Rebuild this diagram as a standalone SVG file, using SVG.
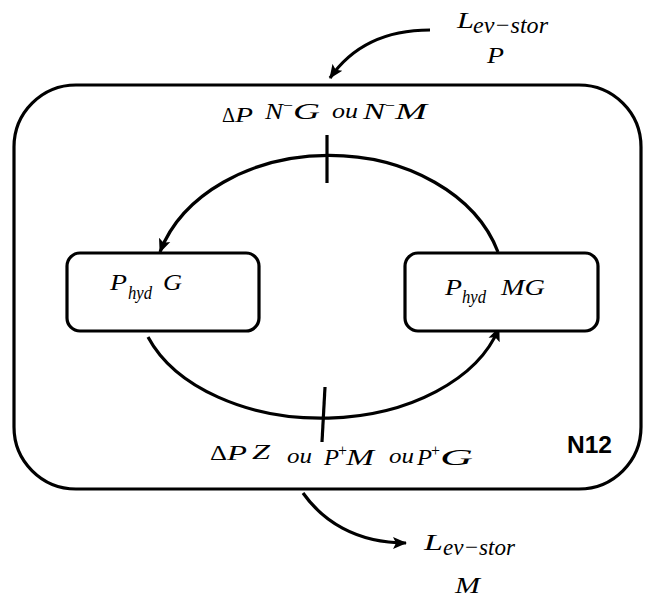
<svg xmlns="http://www.w3.org/2000/svg" width="655" height="598" viewBox="0 0 655 598">
<style>
.m{font-family:"Liberation Serif","Times New Roman",serif;font-style:italic;fill:#000}
.u{font-family:"Liberation Serif","Times New Roman",serif;fill:#000}
.box{fill:#fff;stroke:#000;stroke-width:3.2}
.ln{fill:none;stroke:#000;stroke-width:3.2}
.b{font-family:"Liberation Sans",Arial,sans-serif;font-weight:bold;fill:#000}
</style>
<defs>
<marker id="ah" markerUnits="userSpaceOnUse" markerWidth="16" markerHeight="14" refX="13" refY="7" orient="auto">
<path d="M0,1 L14,7 L0,13 L3,7 Z" fill="#000"/>
</marker>
</defs>
<rect width="655" height="598" fill="#fff"/>
<g id="n12">
<rect class="box" x="14" y="85" width="627" height="404" rx="62" ry="62"/>
<text class="b" x="567" y="453" font-size="23" textLength="45" lengthAdjust="spacingAndGlyphs">N12</text>
</g>
<g id="connectors">
<path class="ln" d="M498 252 A176 134 0 0 0 160 252" marker-end="url(#ah)"/>
<path class="ln" d="M148 337 A184 122 0 0 0 499 328" marker-end="url(#ah)"/>
<line class="ln" x1="327" y1="135" x2="327" y2="183"/>
<line class="ln" x1="325" y1="387" x2="322" y2="442"/>
<path class="ln" d="M430 30 C392 30 355 42 330 78" stroke-width="3.8" marker-end="url(#ah)"/>
<path class="ln" d="M303 493 C322 520 355 543 406 543" stroke-width="3.8" marker-end="url(#ah)"/>
</g>
<g id="phyd-g">
<rect class="box" x="67" y="253" width="192" height="78" rx="13" ry="13"/>
<text class="m" x="110" y="290" font-size="23" textLength="17" lengthAdjust="spacingAndGlyphs">P</text>
<text class="m" x="128" y="299" font-size="18" textLength="24" lengthAdjust="spacingAndGlyphs">hyd</text>
<text class="m" x="163" y="290" font-size="23" textLength="19" lengthAdjust="spacingAndGlyphs">G</text>
</g>
<g id="phyd-mg">
<rect class="box" x="405" y="253" width="193" height="78" rx="13" ry="13"/>
<text class="m" x="445" y="295" font-size="23" textLength="17" lengthAdjust="spacingAndGlyphs">P</text>
<text class="m" x="462" y="303" font-size="18" textLength="24" lengthAdjust="spacingAndGlyphs">hyd</text>
<text class="m" x="501" y="295" font-size="23" textLength="44" lengthAdjust="spacingAndGlyphs">MG</text>
</g>
<g id="label-top">
<text class="u" x="222" y="122" font-size="20" textLength="13" lengthAdjust="spacingAndGlyphs">Δ</text>
<text class="m" x="235" y="122" font-size="20" textLength="18" lengthAdjust="spacingAndGlyphs">P</text>
<text class="m" x="265" y="119" font-size="24" textLength="18" lengthAdjust="spacingAndGlyphs">N</text>
<text class="u" x="283" y="111" font-size="16" textLength="10" lengthAdjust="spacingAndGlyphs">−</text>
<text class="m" x="293" y="119" font-size="24" textLength="27" lengthAdjust="spacingAndGlyphs">G</text>
<text class="m" x="332" y="118" font-size="21" textLength="26" lengthAdjust="spacingAndGlyphs">ou</text>
<text class="m" x="363" y="119" font-size="24" textLength="22" lengthAdjust="spacingAndGlyphs">N</text>
<text class="u" x="385" y="111" font-size="16" textLength="10" lengthAdjust="spacingAndGlyphs">−</text>
<text class="m" x="395" y="119" font-size="24" textLength="32" lengthAdjust="spacingAndGlyphs">M</text>
</g>
<g id="label-bottom">
<text class="u" x="210" y="460" font-size="22" textLength="17" lengthAdjust="spacingAndGlyphs">Δ</text>
<text class="m" x="227" y="460" font-size="22" textLength="20" lengthAdjust="spacingAndGlyphs">P</text>
<text class="m" x="252" y="459" font-size="22" textLength="18" lengthAdjust="spacingAndGlyphs">Z</text>
<text class="m" x="287" y="463" font-size="21" textLength="25" lengthAdjust="spacingAndGlyphs">ou</text>
<text class="m" x="324" y="465" font-size="24" textLength="15" lengthAdjust="spacingAndGlyphs">P</text>
<text class="u" x="338" y="456" font-size="16" textLength="9" lengthAdjust="spacingAndGlyphs">+</text>
<text class="m" x="346" y="465" font-size="24" textLength="28" lengthAdjust="spacingAndGlyphs">M</text>
<text class="m" x="389" y="463" font-size="21" textLength="25" lengthAdjust="spacingAndGlyphs">ou</text>
<text class="m" x="417" y="465" font-size="24" textLength="15" lengthAdjust="spacingAndGlyphs">P</text>
<text class="u" x="431" y="456" font-size="16" textLength="9" lengthAdjust="spacingAndGlyphs">+</text>
<text class="m" x="440" y="465" font-size="24" textLength="33" lengthAdjust="spacingAndGlyphs">G</text>
</g>
<g id="lev-p">
<text class="m" x="457" y="28" font-size="23" textLength="17" lengthAdjust="spacingAndGlyphs">L</text>
<text class="m" x="473" y="33" font-size="24" textLength="75" lengthAdjust="spacingAndGlyphs">ev−stor</text>
<text class="m" x="487" y="63" font-size="23" textLength="17" lengthAdjust="spacingAndGlyphs">P</text>
</g>
<g id="lev-m">
<text class="m" x="424" y="550" font-size="23" textLength="19" lengthAdjust="spacingAndGlyphs">L</text>
<text class="m" x="443" y="555" font-size="24" textLength="72" lengthAdjust="spacingAndGlyphs">ev−stor</text>
<text class="m" x="455" y="593" font-size="23" textLength="25" lengthAdjust="spacingAndGlyphs">M</text>
</g>
</svg>
